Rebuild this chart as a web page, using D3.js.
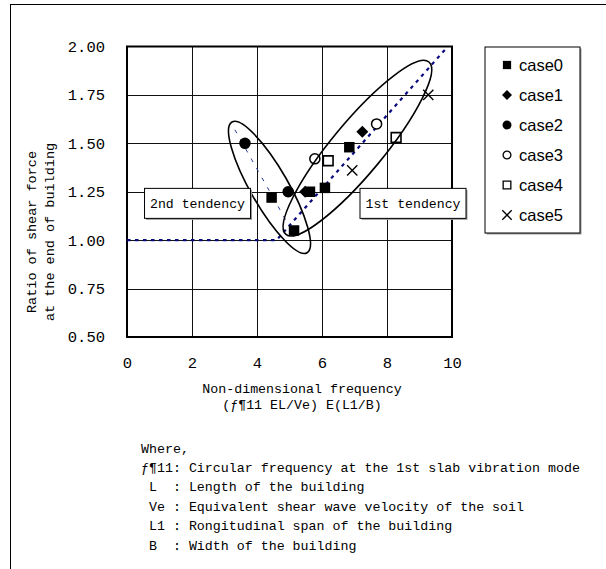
<!DOCTYPE html>
<html>
<head>
<meta charset="utf-8">
<script src="https://cdn.jsdelivr.net/npm/d3@7"></script>
<style>
  html, body { margin: 0; padding: 0; background: #fff; }
  svg { display: block; }
  text { font-family: "Liberation Mono", "DejaVu Sans Mono", monospace; fill: #000; }
  .legend text { font-family: "Liberation Sans", Arial, sans-serif; }
</style>
</head>
<body>
<svg id="chart" width="606" height="569"></svg>
<script>
// ---- data ----
const caseNames = ["case0", "case1", "case2", "case3", "case4", "case5"];
const case0X = [4.45, 5.14, 5.63, 6.09, 6.84];
const case0Y = [1.22, 1.05, 1.25, 1.27, 1.48];
const case1X = [5.48, 7.24];
const case1Y = [1.25, 1.56];
const case2X = [3.63, 4.96];
const case2Y = [1.50, 1.25];
const case3X = [5.78, 7.68];
const case3Y = [1.42, 1.60];
const case4X = [6.19, 8.28];
const case4Y = [1.41, 1.53];
const case5X = [6.93, 9.27];
const case5Y = [1.36, 1.75];

const xTicks = [0, 2, 4, 6, 8, 10];
const yTicks = [0.50, 0.75, 1.00, 1.25, 1.50, 1.75, 2.00];

// tendency lines (x, ratio)
const firstTrend = [[0, 1.0], [4.6, 1.0], [9.87, 2.0]];
const secondTrend = [[3.32, 1.57], [5.1, 1.04]];

// grouping ellipses: two ends of the long axis, plus width relative to length
const firstGroupEnds = [[4.89, 1.03], [9.29, 1.92]];
const firstGroupWidth = 0.23;
const secondGroupEnds = [[3.23, 1.61], [5.54, 0.935]];
const secondGroupWidth = 0.25;

const tendencyLabels = [
  { text: "2nd tendency", x: 2.17, y: 1.19 },
  { text: "1st tendency", x: 8.8, y: 1.19 }
];

const yTitle = ["Ratio of shear force", "at the end of building"];
const xTitle = ["Non-dimensional frequency", "(\u0192\u00b611 EL/Ve) E(L1/B)"];
const notes = [
  "Where,",
  "\u0192\u00b611: Circular frequency at the 1st slab vibration mode",
  " L  : Length of the building",
  " Ve : Equivalent shear wave velocity of the soil",
  " L1 : Rongitudinal span of the building",
  " B  : Width of the building"
];

const seriesX = [case0X, case1X, case2X, case3X, case4X, case5X];
const seriesY = [case0Y, case1Y, case2Y, case3Y, case4Y, case5Y];

// ---- layout ----
const svg = d3.select("#chart");
const plot = { left: 127, right: 452, top: 46.5, bottom: 337 };
const x = d3.scaleLinear().domain([0, 10]).range([plot.left, plot.right]);
const y = d3.scaleLinear().domain([0.5, 2.0]).range([plot.bottom, plot.top]);

// outer frame
svg.append("rect")
  .attr("x", 10.5).attr("y", 4.5).attr("width", 640).attr("height", 620)
  .attr("fill", "none").attr("stroke", "#000").attr("stroke-width", 1);

// grid
const grid = svg.append("g");
grid.selectAll("line.vx").data(xTicks.slice(1, -1)).join("line")
  .attr("x1", d => Math.round(x(d)) + 0.5).attr("x2", d => Math.round(x(d)) + 0.5)
  .attr("y1", plot.top).attr("y2", plot.bottom)
  .attr("stroke", "#111").attr("stroke-width", 1);
grid.selectAll("line.hy").data(yTicks.slice(1, -1)).join("line")
  .attr("y1", d => Math.round(y(d)) + 0.5).attr("y2", d => Math.round(y(d)) + 0.5)
  .attr("x1", plot.left).attr("x2", plot.right)
  .attr("stroke", "#111").attr("stroke-width", 1);

// axes (labels only, frame drawn separately)
const xAxis = d3.axisBottom(x).tickValues(xTicks).tickSize(0).tickPadding(0)
  .tickFormat(d3.format("d"));
const gx = svg.append("g").attr("transform", `translate(0,${plot.bottom + 20})`).call(xAxis);
gx.select(".domain").remove();
gx.selectAll("text").attr("font-family", "Liberation Mono").attr("font-size", 15.5).attr("fill", "#000");

const yAxis = d3.axisLeft(y).tickValues(yTicks).tickSize(0).tickPadding(0)
  .tickFormat(d3.format(".2f"));
const gy = svg.append("g").attr("transform", `translate(${plot.left - 22},0)`).call(yAxis);
gy.select(".domain").remove();
gy.selectAll("text").attr("font-family", "Liberation Mono").attr("font-size", 15.5).attr("fill", "#000");

// plot frame
svg.append("rect")
  .attr("x", plot.left).attr("y", plot.top)
  .attr("width", plot.right - plot.left).attr("height", plot.bottom - plot.top)
  .attr("fill", "none").attr("stroke", "#000").attr("stroke-width", 2);

// tendency lines
const line = d3.line().x(d => x(d[0])).y(d => y(d[1]));
svg.append("path").datum(firstTrend).attr("d", line)
  .attr("fill", "none").attr("stroke", "#0a0a80").attr("stroke-width", 2.2)
  .attr("stroke-dasharray", "3.5,4.5");
svg.append("path").datum(secondTrend).attr("d", line)
  .attr("fill", "none").attr("stroke", "#2a3a9a").attr("stroke-width", 1)
  .attr("stroke-dasharray", "4,7");

// markers (diamond = square turned 45 degrees)
const sq = d3.symbol().type(d3.symbolSquare);
const circ = d3.symbol().type(d3.symbolCircle);
const cross = d3.symbol().type(d3.symbolTimes);
const markerStyles = [
  { gen: sq, size: 110, rot: 0, fill: "#000", stroke: "none", sw: 0 },
  { gen: sq, size: 72, rot: 45, fill: "#000", stroke: "none", sw: 0 },
  { gen: circ, size: 105, rot: 0, fill: "#000", stroke: "none", sw: 0 },
  { gen: circ, size: 80, rot: 0, fill: "#fff", stroke: "#000", sw: 1.5 },
  { gen: sq, size: 95, rot: 0, fill: "#fff", stroke: "#000", sw: 1.6 },
  { gen: cross, size: 70, rot: 0, fill: "none", stroke: "#000", sw: 1.4 }
];
const legendScale = [0.62, 0.7, 0.6, 0.6, 0.62, 0.85];

const markers = svg.append("g");
seriesX.forEach((xs, i) => {
  const st = markerStyles[i];
  const pts = xs.map((v, j) => [v, seriesY[i][j]]);
  markers.append("g").selectAll("path").data(pts).join("path")
    .attr("transform", d => `translate(${x(d[0])},${y(d[1])}) rotate(${st.rot})`)
    .attr("d", st.gen.size(st.size)())
    .attr("fill", st.fill).attr("stroke", st.stroke).attr("stroke-width", st.sw);
});

// grouping ellipses
function drawGroup(ends, ratio) {
  const p0 = [x(ends[0][0]), y(ends[0][1])];
  const p1 = [x(ends[1][0]), y(ends[1][1])];
  const cx = (p0[0] + p1[0]) / 2, cy = (p0[1] + p1[1]) / 2;
  const len = Math.hypot(p1[0] - p0[0], p1[1] - p0[1]);
  const ang = Math.atan2(p1[1] - p0[1], p1[0] - p0[0]) * 180 / Math.PI;
  svg.append("ellipse")
    .attr("transform", `translate(${cx},${cy}) rotate(${ang})`)
    .attr("rx", len / 2).attr("ry", len / 2 * ratio)
    .attr("fill", "none").attr("stroke", "#000").attr("stroke-width", 1.6);
}
drawGroup(firstGroupEnds, firstGroupWidth);
drawGroup(secondGroupEnds, secondGroupWidth);

// tendency labels
tendencyLabels.forEach(l => {
  const g = svg.append("g").attr("transform", `translate(${x(l.x)},${y(l.y)})`);
  const w = 106, h = 30;
  g.append("rect").attr("x", -w / 2 + 1.5).attr("y", -h / 2 + 1.5).attr("width", w).attr("height", h)
    .attr("fill", "#999");
  g.append("rect").attr("x", -w / 2).attr("y", -h / 2).attr("width", w).attr("height", h)
    .attr("fill", "#fff").attr("stroke", "#000").attr("stroke-width", 1);
  g.append("text").attr("text-anchor", "middle").attr("dy", "0.35em")
    .attr("font-size", 13.2).text(l.text);
});

// legend
const lg = svg.append("g").attr("class", "legend");
const lx = 485, ly = 47, lw = 95, lh = 186;
lg.append("rect").attr("x", lx + 1.5).attr("y", ly + 1.5).attr("width", lw).attr("height", lh).attr("fill", "#999");
lg.append("rect").attr("x", lx).attr("y", ly).attr("width", lw).attr("height", lh)
  .attr("fill", "#fff").attr("stroke", "#000").attr("stroke-width", 1);
caseNames.forEach((name, i) => {
  const st = markerStyles[i];
  const cy = ly + 18 + i * 30;
  lg.append("path").attr("transform", `translate(${lx + 22},${cy}) rotate(${st.rot})`)
    .attr("d", st.gen.size(st.size * legendScale[i])())
    .attr("fill", st.fill).attr("stroke", st.stroke).attr("stroke-width", Math.min(st.sw, 1.3));
  lg.append("text").attr("x", lx + 34).attr("y", cy).attr("dy", "0.35em")
    .attr("font-size", 16.5).text(name);
});

// axis titles
yTitle.forEach((t, i) => {
  svg.append("text")
    .attr("transform", `translate(${31 + i * 18},${232}) rotate(-90)`)
    .attr("text-anchor", "middle").attr("dy", "0.35em")
    .attr("font-size", 13.5).text(t);
});
xTitle.forEach((t, i) => {
  svg.append("text").attr("x", 302).attr("y", 388 + i * 16).attr("dy", "0.35em")
    .attr("text-anchor", "middle").attr("font-size", 13.3).text(t);
});

// notes
notes.forEach((t, i) => {
  svg.append("text").attr("x", 141).attr("y", 448 + i * 19.4).attr("dy", "0.35em")
    .attr("font-size", 13.3).style("white-space", "pre").text(t);
});
</script>
</body>
</html>
